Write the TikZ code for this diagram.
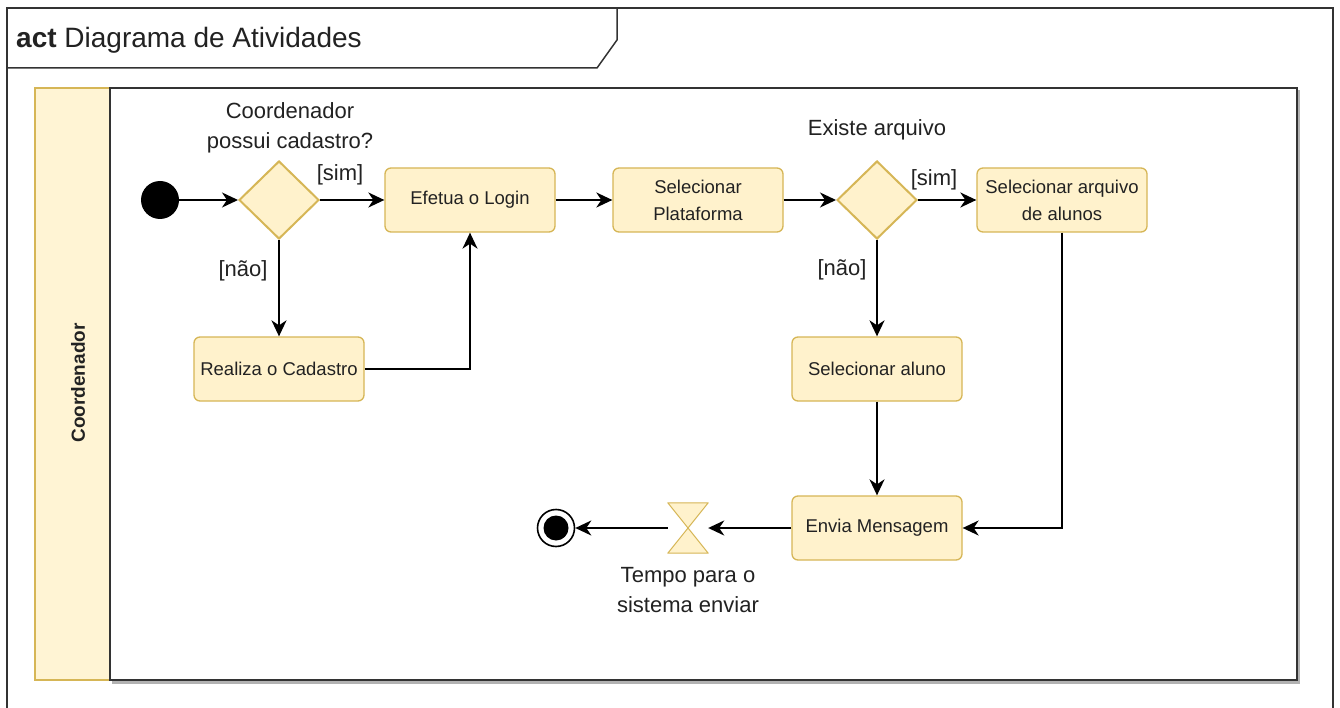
\documentclass[tikz,border=0pt]{standalone}
\usepackage{fontspec}
\setmainfont{Liberation Sans}
\usetikzlibrary{shapes.geometric,arrows.meta,calc}
\definecolor{actfill}{HTML}{FFF2CC}
\definecolor{actdraw}{HTML}{D6B656}
\definecolor{lanefill}{HTML}{FFF4D4}
\definecolor{txt}{HTML}{222222}
\begin{document}
\begin{tikzpicture}[x=1pt,y=-1pt,
  action/.style={draw=actdraw,fill=actfill,rounded corners=6pt,minimum width=170pt,minimum height=64pt,
    align=center,inner sep=2pt,font=\fontsize{18.5}{27}\selectfont,text=txt,line width=1.3pt},
  decision/.style={draw=actdraw,fill=actfill,diamond,aspect=1.03,minimum width=80pt,minimum height=78pt,inner sep=0pt,line width=2pt},
  flow/.style={draw=black,line width=2pt,-{Stealth[length=16pt,width=15pt,inset=5pt]}},
  lbl/.style={font=\fontsize{22}{30}\selectfont,text=txt,align=center,inner sep=0pt},
  frameline/.style={draw=black!80,line width=1.5pt}
]
\useasboundingbox (0,0) rectangle (1340,708);
\fill[white] (0,0) rectangle (1340,708);
% outer frame
\draw[frameline] (7,708) -- (7,8) -- (1333,8) -- (1333,708);
\draw[frameline] (7,68) -- (597,68) -- (617,40) -- (617,8);
\node[anchor=west,font=\fontsize{28}{32}\selectfont,inner sep=0pt,text=txt] (title) at (16,40) {\textbf{act} Diagrama de Atividades};
% swimlane
\fill[black!30] (112,680) rectangle (1299,683.5);
\fill[black!30] (1297,90) rectangle (1299.5,683.5);
\draw[draw=actdraw,fill=lanefill,line width=1.2pt] (35,88) rectangle (110,680);
\draw[draw=black!80,line width=1.6pt,fill=white] (110,88) rectangle (1297,680);
\node[rotate=90,font=\bfseries\fontsize{19}{22}\selectfont,text=txt] (lane) at (78,383) {Coordenador};
% nodes
\node[circle,fill=black,minimum size=38pt,inner sep=0pt] (start) at (160,200) {};
\node[decision] (d1) at (279,200) {};
\node[action] (login) at (470,200) {Efetua o Login};
\node[action] (plat) at (698,200) {Selecionar\\Plataforma};
\node[decision] (d2) at (877,200) {};
\node[action] (arq) at (1062,200) {Selecionar arquivo\\de alunos};
\node[action] (cad) at (279,369) {Realiza o Cadastro};
\node[action] (aluno) at (877,369) {Selecionar aluno};
\node[action] (env) at (877,528) {Envia Mensagem};
\node[minimum width=40pt,minimum height=50pt,inner sep=0pt] (hg) at (688,528) {};
\draw[draw=actdraw,fill=actfill,line width=1pt,line join=round]
  (hg.north west) -- (hg.north east) -- (hg.center) -- cycle
  (hg.south west) -- (hg.south east) -- (hg.center) -- cycle;
\node[circle,draw=black,line width=1.6pt,minimum size=37pt,inner sep=0pt] (end) at (556,528) {};
\fill[black] (end.center) circle (12.5pt);
% labels
\node[lbl] (q1) at (290,128) {Coordenador\\possui cadastro?};
\node[lbl] (q2) at (877,130) {Existe arquivo};
\node[lbl] (sim1) at (340,175) {[sim]};
\node[lbl] (sim2) at (934,180) {[sim]};
\node[lbl] (nao1) at (243,271) {[não]};
\node[lbl] (nao2) at (842,270) {[não]};
\node[lbl] (tempo) at (688,590) {Tempo para o\\sistema enviar};
% flows
\draw[flow] (start) -- (d1);
\draw[flow] (d1) -- (login);
\draw[flow] (d1) -- (cad);
\draw[flow] (cad.east) -| (login.south);
\draw[flow] (login) -- (plat);
\draw[flow] (plat) -- (d2);
\draw[flow] (d2) -- (arq);
\draw[flow] (d2) -- (aluno);
\draw[flow] (aluno) -- (env);
\draw[flow] (arq.south) |- (env.east);
\draw[flow] (env) -- (hg);
\draw[flow] (hg) -- (end);
\end{tikzpicture}
\end{document}
